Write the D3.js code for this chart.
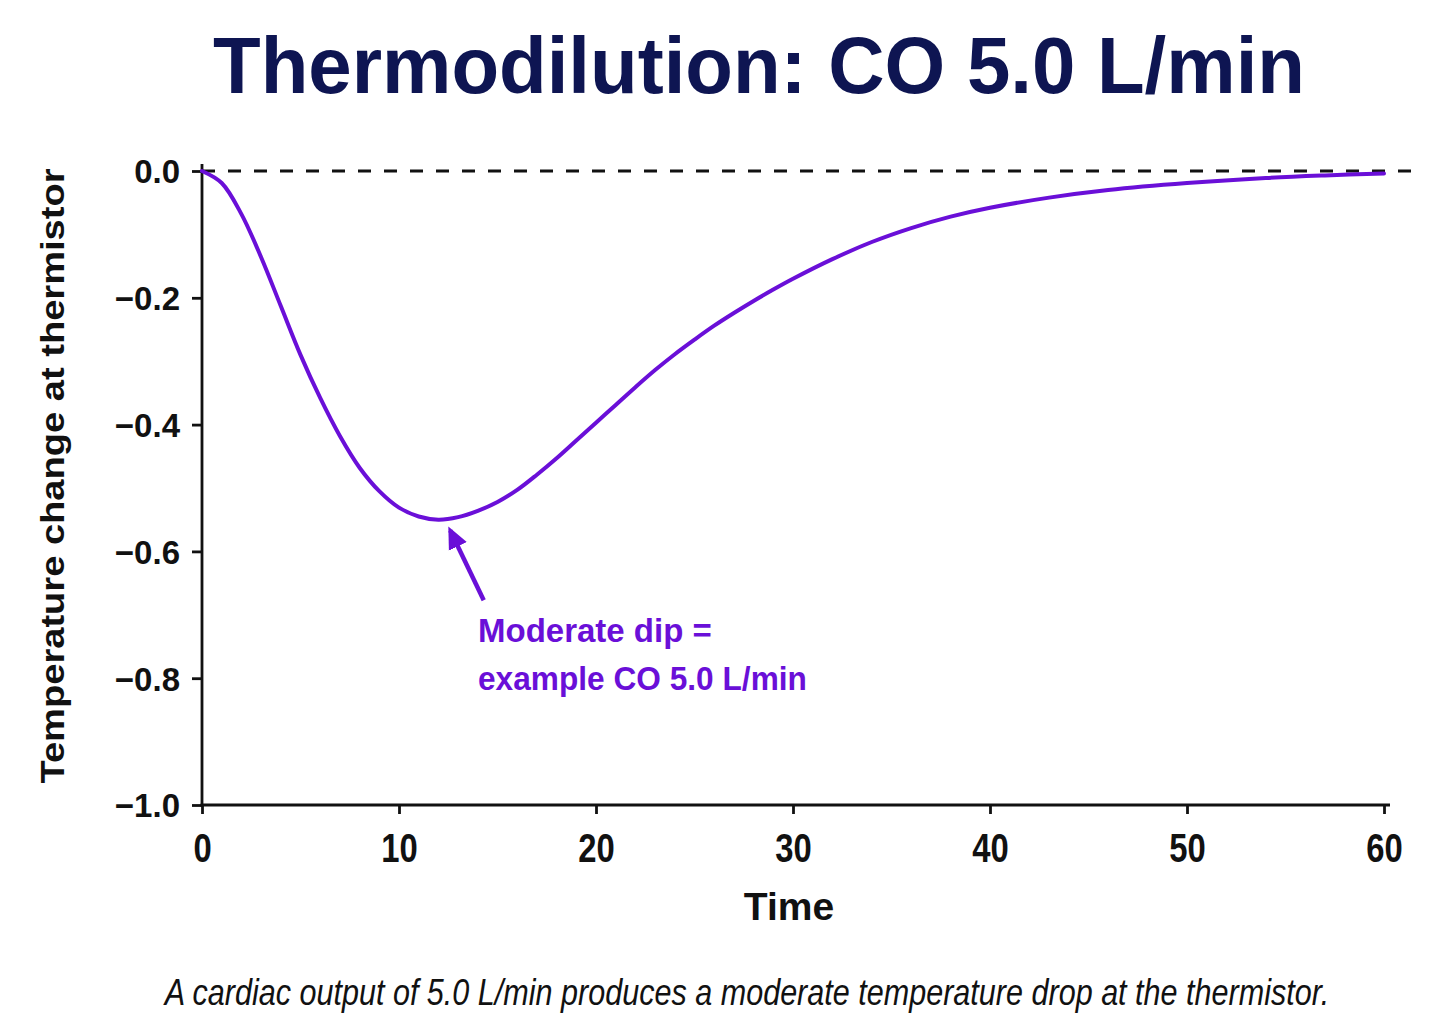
<!DOCTYPE html>
<html>
<head>
<meta charset="utf-8">
<script src="https://cdn.jsdelivr.net/npm/d3@7"></script>
<style>
  html, body { margin: 0; padding: 0; background: #fff; }
  text { font-family: "Liberation Sans", Arial, sans-serif; }
</style>
</head>
<body>
<div id="chart"></div>
<script>
// curve
const times = [0, 1, 2, 3, 4, 5, 6, 7, 8, 9, 10, 11, 12, 13, 14, 15, 16, 17, 18, 19, 20,
               21, 22, 23, 24, 25, 26, 27, 28, 29, 30, 32, 34, 36, 38, 40, 43, 46, 50, 54, 57, 60];
const tempChange = [0, -0.019, -0.068, -0.136, -0.213, -0.290, -0.358, -0.418, -0.468, -0.505, -0.531,
                    -0.545, -0.550, -0.546, -0.536, -0.522, -0.503, -0.479, -0.453, -0.425, -0.397,
                    -0.369, -0.341, -0.314, -0.289, -0.266, -0.244, -0.224, -0.205, -0.187, -0.170,
                    -0.139, -0.112, -0.090, -0.072, -0.058, -0.042, -0.030, -0.019, -0.011, -0.007, -0.004];
const xTicks = [0, 10, 20, 30, 40, 50, 60];
const yTicks = [0, -0.2, -0.4, -0.6, -0.8, -1.0];

const titleText = "Thermodilution: CO 5.0 L/min";
const xLabel = "Time";
const yLabel = "Temperature change at thermistor";
const noteLines = ["Moderate dip =", "example CO 5.0 L/min"];
const noteAt = { tip: [12.6, -0.567], tail: [14.3, -0.677] };
const caption = "A cardiac output of 5.0 L/min produces a moderate temperature drop at the thermistor.";

const width = 1448, height = 1018;
const purple = "#6a0fd8";
const navy = "#0e1552";

const svg = d3.select('#chart').append('svg')
    .attr('width', width)
    .attr('height', height);

const x = d3.scaleLinear().domain([0, 60]).range([202, 1384]);
const y = d3.scaleLinear().domain([-1, 0]).range([805, 171]);

svg.append('defs').append('marker')
    .attr('id', 'head')
    .attr('viewBox', '0 0 10 10')
    .attr('refX', 8).attr('refY', 5)
    .attr('markerWidth', 22).attr('markerHeight', 22)
    .attr('markerUnits', 'userSpaceOnUse')
    .attr('orient', 'auto')
    .append('path')
    .attr('d', 'M0,0.5 L10,5 L0,9.5 z')
    .attr('fill', purple);

// fit a text's width by scaling it horizontally
function fitWidth(sel, w) {
    const len = sel.node().getComputedTextLength();
    const cx = +sel.attr('x'), cy = +sel.attr('y');
    sel.attr('transform', `translate(${cx},${cy}) scale(${w / len},1) translate(${-cx},${-cy})`);
}

// title
const title = svg.append('text')
    .attr('x', 759).attr('y', 93)
    .attr('text-anchor', 'middle')
    .attr('font-family', 'Roboto, sans-serif')
    .attr('font-weight', 900)
    .attr('font-size', 80)
    .attr('fill', navy)
    .text(titleText);
fitWidth(title, 1092);

// zero reference
svg.append('line')
    .attr('x1', x(0)).attr('x2', 1412)
    .attr('y1', y(0)).attr('y2', y(0))
    .attr('stroke', '#111')
    .attr('stroke-width', 3)
    .attr('stroke-dasharray', '13,13');

// axes
const xAxis = svg.append('g')
    .attr('transform', `translate(0,${y(-1)})`)
    .call(d3.axisBottom(x).tickValues(xTicks).tickSize(9).tickSizeOuter(0));
const yAxis = svg.append('g')
    .attr('transform', `translate(${x(0)},0)`)
    .call(d3.axisLeft(y).tickValues(yTicks).tickSize(10).tickPadding(12).tickSizeOuter(0)
        .tickFormat(d => d3.format('.1f')(d).replace('-', '\u2212')));

[xAxis, yAxis].forEach(g => {
    g.select('.domain').remove();
    g.selectAll('.tick line').attr('stroke', '#111').attr('stroke-width', 2.8);
    g.selectAll('.tick text')
        .attr('fill', '#111')
        .attr('font-family', '"Liberation Sans", Arial, sans-serif')
        .attr('font-weight', 'bold');
});
yAxis.selectAll('.tick text').attr('font-size', 33).attr('dy', '0.36em');
xAxis.selectAll('.tick text')
    .attr('font-size', 41)
    .attr('y', 57).attr('dy', 0)
    .attr('transform', 'scale(0.8,1)');

svg.append('line')
    .attr('x1', x(0) - 1.4).attr('x2', 1390)
    .attr('y1', y(-1)).attr('y2', y(-1))
    .attr('stroke', '#111').attr('stroke-width', 2.8);
svg.append('line')
    .attr('x1', x(0)).attr('x2', x(0))
    .attr('y1', y(0) - 7).attr('y2', y(-1) + 1.4)
    .attr('stroke', '#111').attr('stroke-width', 2.8);

// curve
const line = d3.line()
    .x((d, i) => x(times[i]))
    .y(d => y(d))
    .curve(d3.curveCatmullRom.alpha(0.5));

svg.append('path')
    .datum(tempChange)
    .attr('fill', 'none')
    .attr('stroke', purple)
    .attr('stroke-width', 4)
    .attr('stroke-linecap', 'round')
    .attr('d', line);

// annotation
svg.append('line')
    .attr('x1', x(noteAt.tail[0])).attr('y1', y(noteAt.tail[1]))
    .attr('x2', x(noteAt.tip[0])).attr('y2', y(noteAt.tip[1]))
    .attr('stroke', purple)
    .attr('stroke-width', 4.5)
    .attr('marker-end', 'url(#head)');

svg.append('g').selectAll('text')
    .data(noteLines)
    .join('text')
    .attr('x', 478)
    .attr('y', (d, i) => 642 + i * 48)
    .attr('font-family', 'Roboto, sans-serif')
    .attr('font-weight', 'bold')
    .attr('font-size', 33)
    .attr('fill', purple)
    .text(d => d)
    .each(function (d, i) {
        if (i === 1) fitWidth(d3.select(this).attr('text-anchor', 'start'), 329);
    });

// axis titles
svg.append('text')
    .attr('x', 789).attr('y', 920)
    .attr('text-anchor', 'middle')
    .attr('font-weight', 'bold')
    .attr('font-size', 39)
    .attr('fill', '#111')
    .text(xLabel);

svg.append('text')
    .attr('transform', 'translate(64,476) rotate(-90)')
    .attr('text-anchor', 'middle')
    .attr('font-family', 'Roboto, sans-serif')
    .attr('font-weight', 'bold')
    .attr('font-size', 34)
    .attr('fill', '#111')
    .attr('textLength', 615)
    .attr('lengthAdjust', 'spacingAndGlyphs')
    .text(yLabel);

// caption
const cap = svg.append('text')
    .attr('x', 747).attr('y', 1005)
    .attr('text-anchor', 'middle')
    .attr('font-style', 'italic')
    .attr('font-size', 37)
    .attr('fill', '#111')
    .text(caption);
fitWidth(cap, 1165);
</script>
</body>
</html>
